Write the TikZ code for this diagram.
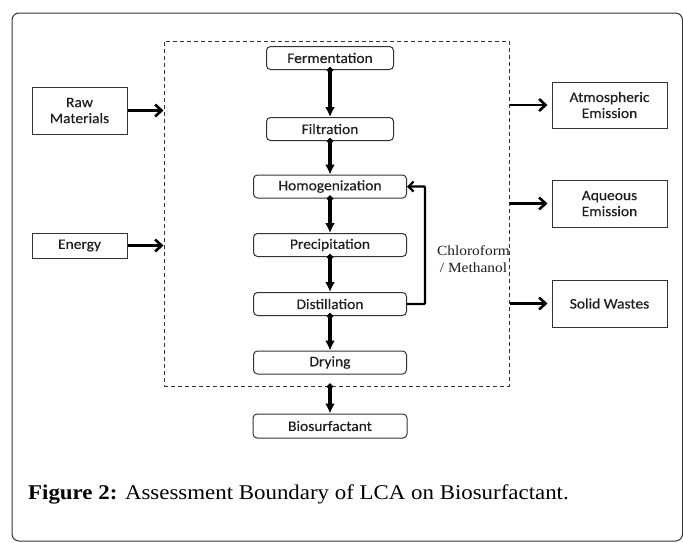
\documentclass[tikz,border=0pt]{standalone}
\usepackage{fontspec}
\setmainfont{Liberation Serif}
\newfontfamily\boxfont[FakeStretch=1.07,FakeBold=0.3]{Carlito}
\newfontfamily\serifx[FakeStretch=1.1]{Liberation Serif}
\newfontfamily\capserif[FakeStretch=1.09]{Liberation Serif}
\usetikzlibrary{arrows.meta,calc}
\definecolor{edge}{HTML}{333333}
\definecolor{txt}{HTML}{1E1E1E}
\begin{document}
\begin{tikzpicture}[x=1pt,y=-1pt,
  proc/.style={draw=edge, line width=1pt, rounded corners=4pt, minimum height=23pt,
    inner sep=0pt, font=\boxfont\fontsize{14.5}{16}\selectfont, text=txt},
  side/.style={draw=edge, line width=1pt, minimum width=95pt, inner sep=0pt,
    font=\boxfont\fontsize{14.5}{16}\selectfont, text=txt, align=center},
  flow/.style={line width=3.3pt, shorten <=-3.5pt,
    {Diamond[length=7pt,width=7pt]}-{Latex[length=10pt,width=10pt]}},
  ioarrow/.style={line width=2.6pt, -{Straight Barb[length=6.5pt,width=12pt,line width=2.6pt]}},
  back/.style={line width=2.2pt, rounded corners=1pt, -{Straight Barb[length=5pt,width=10pt,line width=2.2pt]}},
]
\useasboundingbox (0,0) rectangle (683,542);
% outer frame
\draw[edge, line width=1pt, rounded corners=7pt] (12,13) rectangle (682.5,541);
% boundary
\node[draw=edge, line width=1pt, dash pattern=on 4pt off 3pt, minimum width=345pt,
  minimum height=345pt, inner sep=0pt] (bound) at (336.5,213.5) {};
% process chain
\node[proc, minimum width=127pt] (ferm) at (330,58) {Fermentation};
\node[proc, minimum width=127pt] (filt) at (330,129) {Filtration};
\node[proc, minimum width=153pt] (homo) at (330,186.5) {Homogenization};
\node[proc, minimum width=153pt] (prec) at (330,245) {Precipitation};
\node[proc, minimum width=153pt] (dist) at (330,304) {Distillation};
\node[proc, minimum width=153pt] (dry) at (330,362.5) {Drying};
\node[proc, minimum width=154pt, minimum height=24pt] (bios) at (330,426) {Biosurfactant};
\coordinate (bexit) at (bound.south -| dry.south);
\draw[flow] (ferm.south) -- (filt.north);
\draw[flow] (filt.south) -- (homo.north);
\draw[flow] (homo.south) -- (prec.north);
\draw[flow] (prec.south) -- (dist.north);
\draw[flow] (dist.south) -- (dry.north);
\draw[flow] (bexit) -- (bios.north);
% recycle loop
\coordinate (loopb) at (425,304);
\coordinate (loopt) at (425,186.5);
\draw[back] (dist.east) -- (loopb) -- (loopt) -- (homo.east);
\node[font=\serifx\fontsize{14}{17}\selectfont, text=txt, align=center, inner sep=0pt]
  (solv) at (473.5,259) {Chloroform\\/ Methanol};
% inputs
\node[side, minimum height=47pt] (raw) at (79.5,110.5) {Raw\\Materials};
\node[side, minimum height=25pt] (energy) at (79.5,245.5) {Energy};
\draw[ioarrow] (raw.east) -- (raw.east -| bound.west);
\draw[ioarrow] (energy.east) -- (energy.east -| bound.west);
% outputs
\node[side, minimum width=115pt, minimum height=46pt] (atm) at (609.5,105) {Atmospheric\\Emission};
\node[side, minimum width=115pt, minimum height=47pt] (aq) at (609.5,203.5) {Aqueous\\Emission};
\node[side, minimum width=115pt, minimum height=47pt] (solid) at (609.5,303.5) {Solid Wastes};
\coordinate (o1) at (bound.east |- atm.west);
\coordinate (o2) at (bound.east |- aq.west);
\coordinate (o3) at (bound.east |- solid.west);
\draw[ioarrow] (o1) -- ([xshift=-4pt]atm.west);
\draw[ioarrow] (o2) -- ([xshift=-4pt]aq.west);
\draw[ioarrow] (o3) -- ([xshift=-4pt]solid.west);
% caption
\node[anchor=base west, inner sep=0pt, font=\capserif\fontsize{21}{24}\selectfont, text=black]
  (cap) at (28,499) {\textbf{Figure 2:} Assessment Boundary of LCA on Biosurfactant.};
\end{tikzpicture}
\end{document}
